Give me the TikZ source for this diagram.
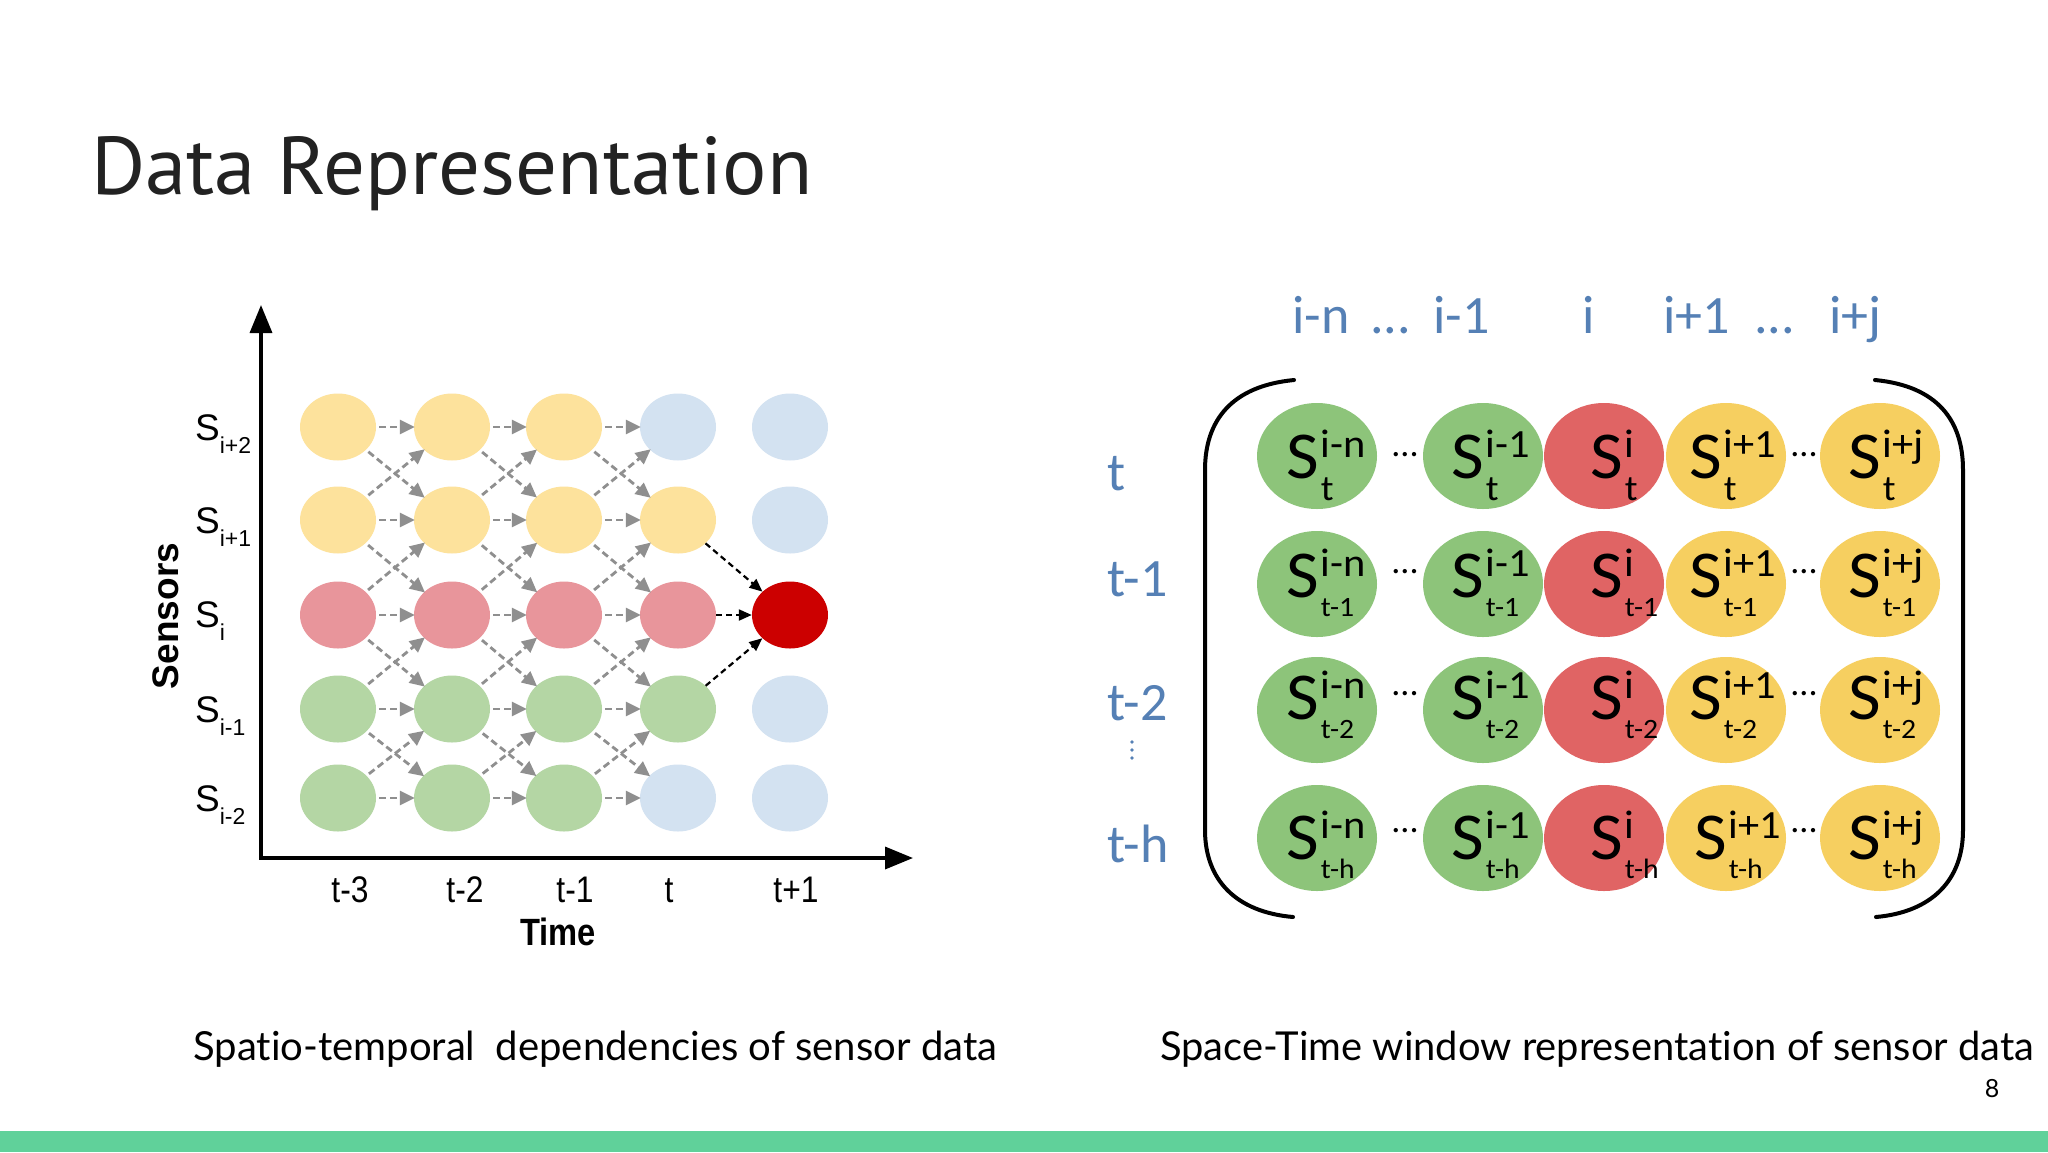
\documentclass[tikz,border=0pt]{standalone}
\usepackage{fontspec}
\usepackage{graphicx}
\setmainfont{Liberation Sans}
\newfontfamily\titlefont{PT Sans}
\newfontfamily\capfont[Ligatures={NoCommon}]{Lato}
\newfontfamily\calfont{Carlito}
\usetikzlibrary{arrows.meta,shapes.geometric}
\definecolor{lyel}{HTML}{FDE29C}
\definecolor{lblue}{HTML}{D3E2F1}
\definecolor{lpink}{HTML}{E8959B}
\definecolor{lgreen}{HTML}{B4D6A4}
\definecolor{dred}{HTML}{CC0000}
\definecolor{rgreen}{HTML}{8DC47A}
\definecolor{rred}{HTML}{E06464}
\definecolor{ryel}{HTML}{F6CF60}
\definecolor{hblue}{HTML}{5580B5}
\definecolor{barg}{HTML}{60D19A}
\definecolor{garr}{HTML}{8F8F8F}
\definecolor{titlec}{HTML}{222222}
\newcommand\Slab[2]{\scalebox{1.06}[1]{\fontsize{67}{67}\selectfont S\kern2pt\ooalign{\raisebox{21pt}{\fontsize{40}{40}\selectfont #1}\cr #2\cr}}}
\newcommand\tsub[1]{\raisebox{-22pt}{\fontsize{36}{36}\selectfont #1}}
\newcommand\nsub[1]{\raisebox{-19pt}{\fontsize{28}{28}\selectfont #1}}
\newcommand\lsub[1]{S\raisebox{-13pt}{\fontsize{23}{23}\selectfont #1}}
\newcommand\narrow[1]{\scalebox{0.86}[1]{#1}}
\begin{document}
\begin{tikzpicture}[x=1pt,y=-1pt,
  lell/.style={ellipse, minimum width=76pt, minimum height=67pt, inner sep=0pt, fill=#1},
  garrow/.style={draw=garr, line width=2.8pt, dash pattern=on 7pt off 4pt, shorten <=3pt, shorten >=-1pt, -{Triangle[width=14pt,length=15pt]}},
  barrow/.style={draw=black, line width=2.2pt, dash pattern=on 6pt off 4pt, -{Triangle[width=11pt,length=13pt]}},
  axisline/.style={line width=3.5pt, {Triangle[width=22pt,length=28pt]}-{Triangle[width=22pt,length=28pt]}, line join=miter},
  rell/.style={ellipse, minimum width=120pt, minimum height=106pt, inner sep=0pt, fill=#1},
  rlab/.style={anchor=base west, inner sep=0pt, font=\calfont},
  hdr/.style={anchor=base west, text=hblue, font=\calfont\fontsize{54}{60}\selectfont, inner sep=0pt},
  slab/.style={anchor=base west, inner sep=0pt, font=\fontsize{37}{40}\selectfont},
  tick/.style={anchor=base, inner sep=0pt, font=\fontsize{37}{40}\selectfont},
  dotsn/.style={inner sep=0pt, font=\calfont\fontsize{36}{36}\selectfont},
  brack/.style={line width=4pt, line cap=round}
]
\useasboundingbox (0,0) rectangle (2048,1152);
\fill[white] (0,0) rectangle (2048,1152);
\fill[barg] (0,1131) rectangle (2048,1152);

% title
\node[anchor=base west, inner sep=0pt, text=titlec] (title) at (91,194) {\resizebox{721pt}{58pt}{\titlefont Data Representation}};

% ---------------- left diagram ----------------
\coordinate (origin) at (261,858);
\coordinate (ytip) at (261,305);
\coordinate (xtip) at (913,858);
\draw[axisline] (ytip) -- (origin) -- (xtip);

% row 1 (i+2)
\node[lell=lyel]  (e1-1) at (338,427) {};
\node[lell=lyel]  (e1-2) at (452,427) {};
\node[lell=lyel]  (e1-3) at (564,427) {};
\node[lell=lblue] (e1-4) at (678,427) {};
\node[lell=lblue] (e1-5) at (790,427) {};
% row 2 (i+1)
\node[lell=lyel]  (e2-1) at (338,520) {};
\node[lell=lyel]  (e2-2) at (452,520) {};
\node[lell=lyel]  (e2-3) at (564,520) {};
\node[lell=lyel]  (e2-4) at (678,520) {};
\node[lell=lblue] (e2-5) at (790,520) {};
% row 3 (i)
\node[lell=lpink] (e3-1) at (338,615) {};
\node[lell=lpink] (e3-2) at (452,615) {};
\node[lell=lpink] (e3-3) at (564,615) {};
\node[lell=lpink] (e3-4) at (678,615) {};
\node[lell=dred]  (e3-5) at (790,615) {};
% row 4 (i-1)
\node[lell=lgreen] (e4-1) at (338,709) {};
\node[lell=lgreen] (e4-2) at (452,709) {};
\node[lell=lgreen] (e4-3) at (564,709) {};
\node[lell=lgreen] (e4-4) at (678,709) {};
\node[lell=lblue]  (e4-5) at (790,709) {};
% row 5 (i-2)
\node[lell=lgreen] (e5-1) at (338,798) {};
\node[lell=lgreen] (e5-2) at (452,798) {};
\node[lell=lgreen] (e5-3) at (564,798) {};
\node[lell=lblue]  (e5-4) at (678,798) {};
\node[lell=lblue]  (e5-5) at (790,798) {};

\foreach \r in {1,...,5}{
  \foreach \c [evaluate=\c as \n using int(\c+1)] in {1,2,3}{
    \draw[garrow] (e\r-\c) -- (e\r-\n);
  }
}
\foreach \r [evaluate=\r as \s using int(\r+1)] in {1,...,4}{
  \foreach \c [evaluate=\c as \n using int(\c+1)] in {1,2,3}{
    \draw[garrow] (e\r-\c) -- (e\s-\n);
    \draw[garrow] (e\s-\c) -- (e\r-\n);
  }
}
\draw[barrow] (e2-4) -- (e3-5);
\draw[barrow] (e3-4) -- (e3-5);
\draw[barrow] (e4-4) -- (e3-5);

% axis labels
\node[slab] (s1) at (195,440) {\lsub{i+2}};
\node[slab] (s2) at (195,533) {\lsub{i+1}};
\node[slab] (s3) at (195,627) {\lsub{i}};
\node[slab] (s4) at (195,722) {\lsub{i-1}};
\node[slab] (s5) at (195,811) {\lsub{i-2}};
\node[rotate=90, inner sep=0pt, font=\bfseries\fontsize{37}{40}\selectfont] (sens) at (166,616) {Sensors};
\node[tick] (t1) at (350,902) {\narrow{t-3}};
\node[tick] (t2) at (465,902) {\narrow{t-2}};
\node[tick] (t3) at (575,902) {\narrow{t-1}};
\node[tick] (t4) at (669,902) {\narrow{t}};
\node[tick] (t5) at (796,902) {\narrow{t+1}};
\node[anchor=base, inner sep=0pt, font=\bfseries\fontsize{38}{40}\selectfont] (time) at (558,945) {\narrow{Time}};

% ---------------- right diagram ----------------
\node[hdr] (h1) at (1292,333) {i-n};
\node[hdr] (h2) at (1370,333) {...};
\node[hdr] (h3) at (1433,333) {i-1};
\node[hdr] (h4) at (1582,333) {i};
\node[hdr] (h5) at (1663,333) {i+1};
\node[hdr] (h6) at (1754,333) {...};
\node[hdr] (h7) at (1829,333) {i+j};

\node[hdr] (r1) at (1107,490) {t};
\node[hdr] (r2) at (1107,596) {t-1};
\node[hdr] (r3) at (1107,720) {t-2};
\node[hdr] (r4) at (1107,862) {t-h};
\fill[hblue] (1132,742) circle (1.8) (1132,750) circle (1.8) (1132,758) circle (1.8);

% brackets
\coordinate (lbt) at (1294,380);
\coordinate (lbb) at (1293,917);
\coordinate (rbt) at (1875,380);
\coordinate (rbb) at (1876,917);
\draw[brack] (lbt) .. controls (1232,386) and (1205,420) .. (1205,470) -- (1205,830) .. controls (1205,880) and (1236,912) .. (lbb);
\draw[brack] (rbt) .. controls (1937,386) and (1963,420) .. (1963,470) -- (1963,830) .. controls (1963,880) and (1932,912) .. (rbb);

% circles
\foreach \r/\y in {1/456,2/584,3/710,4/838}{
  \node[rell=rgreen] (c\r-1) at (1317,\y) {};
  \node[rell=rgreen] (c\r-2) at (1483,\y) {};
  \node[rell=rred]   (c\r-3) at (1604,\y) {};
  \node[rell=ryel]   (c\r-4) at (1726,\y) {};
  \node[rell=ryel]   (c\r-5) at (1880,\y) {};
}
% labels: row t (S baseline 478)
\node[rlab] (l1-1) at (1286,478) {\Slab{i-n}{\tsub{t}}};
\node[rlab] (l1-2) at (1451,478) {\Slab{i-1}{\tsub{t}}};
\node[rlab] (l1-3) at (1590,478) {\Slab{i}{\tsub{t}}};
\node[rlab] (l1-4) at (1689,478) {\Slab{i+1}{\tsub{t}}};
\node[rlab] (l1-5) at (1848,478) {\Slab{i+j}{\tsub{t}}};
% row t-1 (S baseline 597)
\node[rlab] (l2-1) at (1286,597) {\Slab{i-n}{\nsub{t-1}}};
\node[rlab] (l2-2) at (1451,597) {\Slab{i-1}{\nsub{t-1}}};
\node[rlab] (l2-3) at (1590,597) {\Slab{i}{\nsub{t-1}}};
\node[rlab] (l2-4) at (1689,597) {\Slab{i+1}{\nsub{t-1}}};
\node[rlab] (l2-5) at (1848,597) {\Slab{i+j}{\nsub{t-1}}};
% row t-2 (S baseline 719)
\node[rlab] (l3-1) at (1286,719) {\Slab{i-n}{\nsub{t-2}}};
\node[rlab] (l3-2) at (1451,719) {\Slab{i-1}{\nsub{t-2}}};
\node[rlab] (l3-3) at (1590,719) {\Slab{i}{\nsub{t-2}}};
\node[rlab] (l3-4) at (1689,719) {\Slab{i+1}{\nsub{t-2}}};
\node[rlab] (l3-5) at (1848,719) {\Slab{i+j}{\nsub{t-2}}};
% row t-h (S baseline 859)
\node[rlab] (l4-1) at (1286,859) {\Slab{i-n}{\nsub{t-h}}};
\node[rlab] (l4-2) at (1451,859) {\Slab{i-1}{\nsub{t-h}}};
\node[rlab] (l4-3) at (1590,859) {\Slab{i}{\nsub{t-h}}};
\node[rlab] (l4-4) at (1694,859) {\Slab{i+1}{\nsub{t-h}}};
\node[rlab] (l4-5) at (1848,859) {\Slab{i+j}{\nsub{t-h}}};

\foreach \r/\y in {1/455,2/572,3/694,4/831}{
  \node[dotsn] (da\r) at (1405,\y) {...};
  \node[dotsn] (db\r) at (1804,\y) {...};
}

% captions
\node[anchor=base west, inner sep=0pt] (cap1) at (193,1060) {\resizebox{804pt}{!}{\capfont Spatio-temporal\ \ dependencies of sensor data}};
\node[anchor=base west, inner sep=0pt] (cap2) at (1160,1060) {\resizebox{874pt}{!}{\capfont Space-Time window representation of sensor data}};
\node[anchor=base, inner sep=0pt, font=\capfont\fontsize{25}{25}\selectfont] (pnum) at (1992,1097) {8};
\end{tikzpicture}
\end{document}
